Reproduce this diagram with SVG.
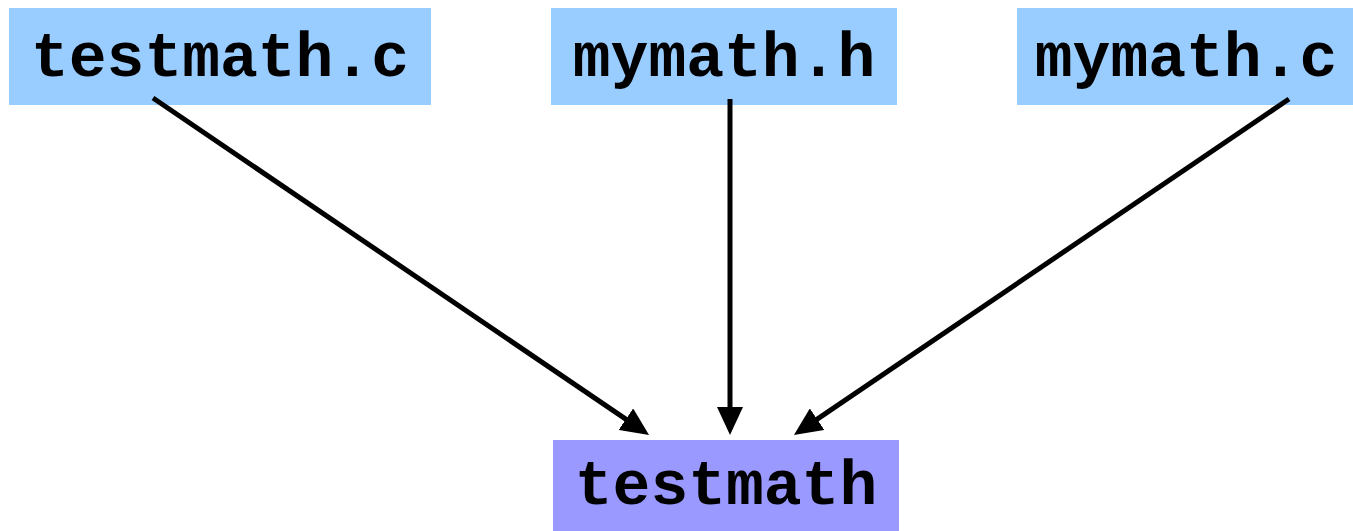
<svg xmlns="http://www.w3.org/2000/svg" width="1353" height="531" viewBox="0 0 1353 531">
<style>
.src{fill:#99CCFF}
.out{fill:#9999FF}
.lbl{font-family:"Liberation Mono","Courier New",monospace;font-weight:bold;font-size:63px;fill:#000;text-anchor:middle}
.edge{stroke:#000;stroke-width:5;fill:none;marker-end:url(#ah)}
</style>
<defs>
<marker id="ah" markerUnits="userSpaceOnUse" markerWidth="28" markerHeight="26" refX="19" refY="13" orient="auto">
<path d="M0,0 L28,13 L0,26 Z" fill="#000"/>
</marker>
</defs>
<rect width="1353" height="531" fill="#fff"/>
<g id="node-testmath-c">
<rect class="src" x="9" y="8" width="422" height="97"/>
<text class="lbl" x="220" y="76">testmath.c</text>
</g>
<g id="node-mymath-h">
<rect class="src" x="551" y="8" width="346" height="97"/>
<text class="lbl" x="724" y="76">mymath.h</text>
</g>
<g id="node-mymath-c">
<rect class="src" x="1017" y="8" width="336" height="97"/>
<text class="lbl" x="1186" y="76">mymath.c</text>
</g>
<g id="node-testmath">
<rect class="out" x="553" y="440" width="346" height="91"/>
<text class="lbl" x="726" y="504">testmath</text>
</g>
<g id="connectors">
<line class="edge" x1="153" y1="98" x2="641.6" y2="429.9"/>
<line class="edge" x1="730" y1="99" x2="730" y2="426"/>
<line class="edge" x1="1289" y1="99" x2="801.4" y2="429.9"/>
</g>
</svg>
